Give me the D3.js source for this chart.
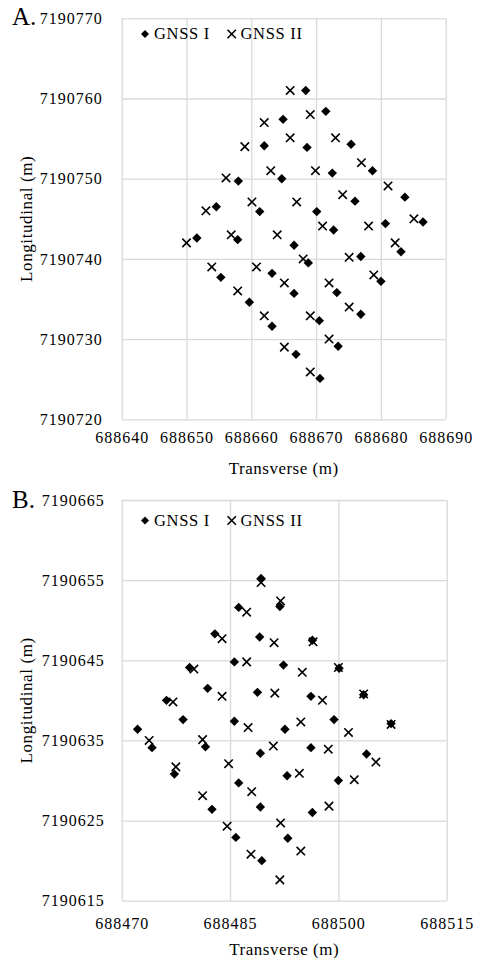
<!DOCTYPE html>
<html>
<head>
<meta charset="utf-8">
<script src="https://cdn.jsdelivr.net/npm/d3@7"></script>
<style>
	body { margin: 0; background: #fff; }
	text { font-family: "Liberation Serif", "Times New Roman", serif; fill: #000; }
</style>
</head>
<body>
<div id="chart"></div>
<script>
var seriesNames = ["GNSS I", "GNSS II"];
var panelLabels = ["A.", "B."];
var xTitle = "Transverse (m)";
var yTitle = "Longitudinal (m)";

// panel A ticks
var xTicksA = [688640, 688650, 688660, 688670, 688680, 688690];
var yTicksA = [7190720, 7190730, 7190740, 7190750, 7190760, 7190770];

// panel B ticks
var xTicksB = [688470, 688485, 688500, 688515];
var yTicksB = [7190615, 7190625, 7190635, 7190645, 7190655, 7190665];

// panel A, GNSS I
var gnss1A = [
	[688668.4, 7190761.0], [688664.9, 7190757.4], [688671.5, 7190758.4], [688662.0, 7190754.1],
	[688668.6, 7190753.9], [688675.4, 7190754.3], [688678.7, 7190751.0], [688658.0, 7190749.7],
	[688664.7, 7190750.0], [688672.5, 7190750.7], [688654.6, 7190746.5], [688661.3, 7190745.9],
	[688670.1, 7190745.9], [688676.0, 7190747.2], [688683.7, 7190747.7], [688651.6, 7190742.6],
	[688657.9, 7190742.4], [688666.6, 7190741.7], [688672.7, 7190743.6], [688680.7, 7190744.4],
	[688686.5, 7190744.6], [688668.8, 7190739.5], [688676.9, 7190740.3], [688683.1, 7190740.9],
	[688655.3, 7190737.7], [688663.2, 7190738.2], [688666.6, 7190735.7], [688673.2, 7190735.8],
	[688680.0, 7190737.2], [688659.7, 7190734.6], [688663.2, 7190731.6], [688670.5, 7190732.3],
	[688676.9, 7190733.1], [688666.9, 7190728.1], [688673.4, 7190729.1], [688670.6, 7190725.1]
];

// panel A, GNSS II
var gnss2A = [
	[688666.0, 7190761.0], [688662.0, 7190757.0], [688669.1, 7190758.0], [688659.0, 7190754.0],
	[688666.0, 7190755.1], [688673.0, 7190755.1], [688677.0, 7190752.0], [688656.1, 7190750.1],
	[688663.0, 7190751.0], [688669.9, 7190751.0], [688653.0, 7190746.0], [688660.1, 7190747.1],
	[688667.0, 7190747.1], [688674.1, 7190748.0], [688681.1, 7190749.1], [688650.0, 7190742.0],
	[688656.9, 7190743.0], [688664.0, 7190743.0], [688671.0, 7190744.1], [688678.1, 7190744.1],
	[688685.1, 7190745.0], [688653.9, 7190739.0], [688660.8, 7190739.0], [688668.0, 7190740.0],
	[688675.1, 7190740.2], [688682.2, 7190742.0], [688657.9, 7190736.0], [688665.1, 7190737.0],
	[688672.0, 7190737.0], [688678.9, 7190738.0], [688662.0, 7190732.9], [688669.1, 7190732.9],
	[688675.1, 7190734.0], [688665.1, 7190729.0], [688672.0, 7190730.0], [688669.1, 7190725.9]
];

// panel B, GNSS I
var gnss1B = [
	[688489.3, 7190655.2], [688486.2, 7190651.6], [688491.9, 7190651.7], [688482.9, 7190648.3],
	[688489.1, 7190647.9], [688496.4, 7190647.5], [688485.6, 7190644.8], [688492.4, 7190644.4],
	[688479.4, 7190644.1], [688500.1, 7190644.0], [688481.9, 7190641.5], [688488.8, 7190641.0],
	[688496.2, 7190640.5], [688503.5, 7190640.7], [688476.2, 7190640.0], [688478.5, 7190637.6],
	[688485.6, 7190637.4], [688492.6, 7190636.4], [688499.4, 7190637.6], [688507.3, 7190637.1],
	[688472.2, 7190636.4], [688474.2, 7190634.1], [688481.6, 7190634.2], [688489.2, 7190633.4],
	[688496.2, 7190634.1], [688503.9, 7190633.3], [688477.3, 7190630.8], [688486.2, 7190629.7],
	[688492.9, 7190630.6], [688500.0, 7190630.0], [688482.5, 7190626.4], [688489.2, 7190626.7],
	[688496.4, 7190626.0], [688485.8, 7190622.9], [688493.0, 7190622.8], [688489.4, 7190620.0]
];

// panel B, GNSS II
var gnss2B = [
	[688489.3, 7190654.7], [688487.3, 7190651.0], [688492.0, 7190652.4], [688483.9, 7190647.7],
	[688491.1, 7190647.2], [688496.5, 7190647.3], [688487.3, 7190644.8], [688495.0, 7190643.5],
	[688480.0, 7190643.9], [688500.0, 7190644.1], [688483.9, 7190640.5], [688491.2, 7190640.9],
	[688497.8, 7190640.0], [688503.5, 7190640.8], [688477.1, 7190639.8], [688487.5, 7190636.6],
	[688494.8, 7190637.3], [688501.4, 7190636.0], [688507.3, 7190637.0], [688473.8, 7190635.0],
	[688481.2, 7190635.1], [688491.0, 7190634.3], [688498.6, 7190633.9], [688505.2, 7190632.3],
	[688484.8, 7190632.1], [688477.5, 7190631.7], [688494.6, 7190630.9], [688502.2, 7190630.1],
	[688488.0, 7190628.6], [688481.2, 7190628.1], [688498.7, 7190626.8], [688484.6, 7190624.3],
	[688492.0, 7190624.7], [688487.9, 7190620.8], [688494.8, 7190621.2], [688491.9, 7190617.6]
];

var diamondPath = 'M0,-4.7L4.7,0L0,4.7L-4.7,0Z';
var crossPath = 'M-4.2,-4.2L4.2,4.2M4.2,-4.2L-4.2,4.2';

function drawMarks(g, data, x, y, kind) {
	var sel = g.append('g')
		.selectAll('path')
		.data(data)
		.enter()
		.append('path')
		.attr('transform', function (d) { return 'translate(' + x(d[0]) + ',' + y(d[1]) + ')'; });
	if (kind == 'diamond') {
		sel.attr('d', diamondPath).attr('fill', '#000');
	} else {
		sel.attr('d', crossPath).attr('fill', 'none').attr('stroke', '#000').attr('stroke-width', 1.6);
	}
}

function drawPanel(svg, p) {
	var w = p.right - p.left;
	var h = p.bottom - p.top;

	var x = d3.scaleLinear()
		.domain(d3.extent(p.xTicks))
		.range([p.left, p.right]);

	var y = d3.scaleLinear()
		.domain(d3.extent(p.yTicks))
		.range([p.bottom, p.top]);

	var gx = svg.append('g')
		.attr('transform', 'translate(0,' + p.bottom + ')')
		.call(d3.axisBottom(x).tickValues(p.xTicks).tickFormat(d3.format('d')).tickSize(-h).tickPadding(p.xPad));

	var gy = svg.append('g')
		.attr('transform', 'translate(' + p.left + ',0)')
		.call(d3.axisLeft(y).tickValues(p.yTicks).tickFormat(d3.format('d')).tickSize(-w).tickPadding(p.yPad));

	[gx, gy].forEach(function (g) {
		g.attr('font-family', null).attr('font-size', null);
		g.select('.domain').remove();
		g.selectAll('line').attr('stroke', '#d9d9d9').attr('stroke-width', 1.3);
		g.selectAll('text')
			.attr('font-size', '16px')
			.attr('letter-spacing', '1px')
			.attr('fill', '#000');
	});

	drawMarks(svg, p.s1, x, y, 'diamond');
	drawMarks(svg, p.s2, x, y, 'cross');

	// legend
	var leg = svg.append('g').attr('transform', 'translate(0,' + p.legendY + ')');
	leg.append('path').attr('d', 'M0,-4L4,0L0,4L-4,0Z').attr('transform', 'translate(145,0)').attr('fill', '#000');
	leg.append('text').attr('x', 154).attr('y', 5.3).attr('font-size', '16.5px').attr('letter-spacing', '0.7px').text(seriesNames[0]);
	leg.append('path').attr('d', crossPath).attr('transform', 'translate(231.7,0)')
		.attr('fill', 'none').attr('stroke', '#000').attr('stroke-width', 1.6);
	leg.append('text').attr('x', 240.5).attr('y', 5.3).attr('font-size', '16.5px').attr('letter-spacing', '0.7px').text(seriesNames[1]);

	// titles
	svg.append('text')
		.attr('x', (p.left + p.right) / 2)
		.attr('y', p.xTitleY)
		.attr('text-anchor', 'middle')
		.attr('font-size', '17px')
		.attr('letter-spacing', '0.5px')
		.text(xTitle);

	svg.append('text')
		.attr('transform', 'translate(32,' + (p.top + p.bottom) / 2 + ') rotate(-90)')
		.attr('text-anchor', 'middle')
		.attr('font-size', '17px')
		.attr('letter-spacing', '0.6px')
		.text(yTitle);

	svg.append('text')
		.attr('x', 12)
		.attr('y', p.labelY)
		.attr('font-size', '25px')
		.text(p.label);
}

var svg = d3.select('#chart').append('svg')
	.attr('width', 479)
	.attr('height', 958)
	.style('display', 'block');

svg.append('rect').attr('width', 479).attr('height', 958).attr('fill', '#fff');

drawPanel(svg, {
	xTicks: xTicksA, yTicks: yTicksA, s1: gnss1A, s2: gnss2A, label: panelLabels[0],
	left: 121.7, right: 445.7, top: 18.3, bottom: 419.3,
	xPad: 12, yPad: 19, legendY: 34, xTitleY: 474, labelY: 25
});

drawPanel(svg, {
	xTicks: xTicksB, yTicks: yTicksB, s1: gnss1B, s2: gnss2B, label: panelLabels[1],
	left: 121.7, right: 446.7, top: 500, bottom: 900.7,
	xPad: 17, yPad: 17, legendY: 520.5, xTitleY: 955, labelY: 508
});
</script>
</body>
</html>
